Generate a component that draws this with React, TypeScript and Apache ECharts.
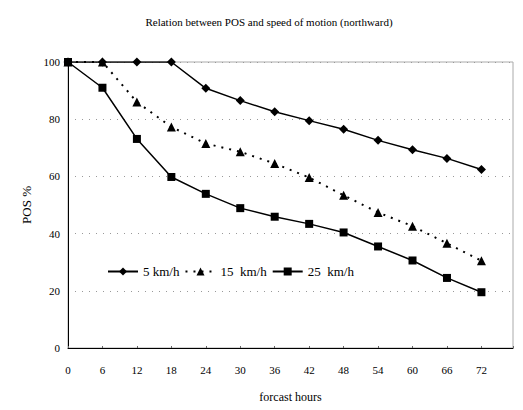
import React, { useEffect, useRef } from "react";
import * as echarts from "echarts";

const hours = [0, 6, 12, 18, 24, 30, 36, 42, 48, 54, 60, 66, 72];
const speed5 = [100, 100, 100, 100, 90.8, 86.5, 82.6, 79.5, 76.5, 72.6, 69.3, 66.3, 62.4];
const speed15 = [100, 100, 86, 77.3, 71.5, 68.6, 64.5, 59.6, 53.4, 47.4, 42.6, 36.6, 30.5];
const speed25 = [100, 91, 73.1, 59.8, 53.9, 48.9, 45.9, 43.4, 40.4, 35.5, 30.6, 24.5, 19.5];
const seriesNames = ["5 km/h", "15  km/h", "25  km/h"];
const yTicks = { min: 0, max: 100, interval: 20 };

const FONT = "Liberation Serif";

const pairs = (vals: number[]) => hours.map((h, i) => [h, vals[i]]);

export default function App() {
  const ref = useRef<HTMLDivElement>(null);
  useEffect(() => {
    document.body.style.margin = "0";
    if (!ref.current) return;
    const chart = echarts.init(ref.current, undefined, { renderer: "svg" });
    const legendText = { fontFamily: FONT, fontSize: 13, color: "#000" };
    chart.setOption({
      animation: false,
      backgroundColor: "#fff",
      textStyle: { fontFamily: FONT, color: "#000" },
      title: {
        text: "Relation between POS and speed of motion (northward)",
        left: 264,
        textAlign: "center",
        top: 11,
        textStyle: { fontFamily: FONT, fontSize: 11, fontWeight: "normal", color: "#000" },
      },
      grid: {
        left: 68,
        right: 10,
        top: 62,
        bottom: 62,
        show: true,
        borderColor: "#aaa",
        borderWidth: 1,
      },
      legend: {
        left: 102,
        top: 260,
        itemWidth: 30,
        itemHeight: 10,
        itemGap: 5,
        textStyle: legendText,
        data: seriesNames.map((n) => ({ name: n, textStyle: legendText })),
      },
      xAxis: {
        type: "value",
        min: 0,
        max: 77.5,
        interval: 6,
        name: "forcast hours",
        nameLocation: "middle",
        nameGap: 43,
        nameTextStyle: { fontFamily: FONT, fontSize: 12, color: "#000" },
        axisLine: { lineStyle: { color: "#000", width: 1 } },
        axisTick: { show: true, inside: true, length: 2, lineStyle: { color: "#666" } },
        axisLabel: {
          fontFamily: FONT,
          fontSize: 11,
          color: "#000",
          margin: 16,
          formatter: (v: number) => (v % 6 === 0 && v <= 72 ? String(v) : ""),
        },
        splitLine: { show: false },
      },
      yAxis: {
        type: "value",
        min: yTicks.min,
        max: yTicks.max,
        interval: yTicks.interval,
        name: "POS %",
        nameLocation: "middle",
        nameGap: 32,
        nameTextStyle: { fontFamily: FONT, fontSize: 13, color: "#000" },
        axisLine: { show: true, lineStyle: { color: "#000", width: 1 } },
        axisTick: { show: false },
        axisLabel: { fontFamily: FONT, fontSize: 11, color: "#000", margin: 8 },
        splitLine: { show: true, lineStyle: { color: "#999", type: [1, 6], width: 1 } },
      },
      series: [
        {
          type: "line",
          name: seriesNames[0],
          data: pairs(speed5),
          symbol: "diamond",
          symbolSize: 9,
          lineStyle: { color: "#000", width: 1.5 },
          itemStyle: { color: "#000" },
        },
        {
          type: "line",
          name: seriesNames[1],
          data: pairs(speed15),
          symbol: "triangle",
          symbolSize: 9,
          lineStyle: { color: "#000", width: 2, type: [2, 6] },
          itemStyle: { color: "#000" },
        },
        {
          type: "line",
          name: seriesNames[2],
          data: pairs(speed25),
          symbol: "rect",
          symbolSize: 8,
          lineStyle: { color: "#000", width: 1.5 },
          itemStyle: { color: "#000" },
        },
      ],
    });
    return () => chart.dispose();
  }, []);
  return <div ref={ref} style={{ width: 523, height: 410 }} />;
}
